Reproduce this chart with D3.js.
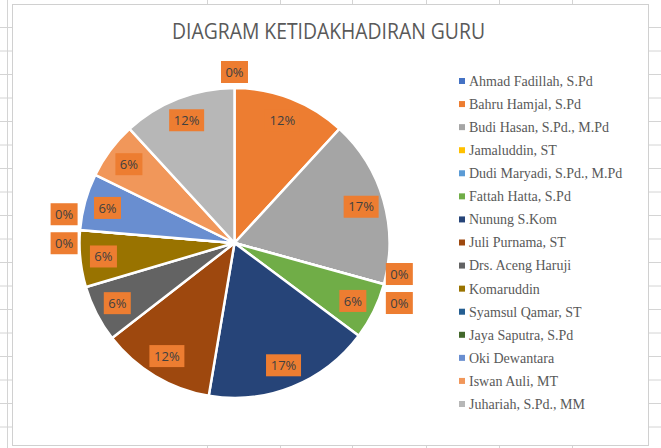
<!DOCTYPE html>
<html>
<head>
<meta charset="utf-8">
<script src="https://cdn.jsdelivr.net/npm/d3@7"></script>
<style>
  body { margin: 0; background: #fff; }
  svg { display: block; }
</style>
</head>
<body>
<script>
let w = 661;
let h = 448;

// data (share of absences, in percent)
let names = ["Ahmad Fadillah, S.Pd", "Bahru Hamjal, S.Pd", "Budi Hasan, S.Pd., M.Pd",
  "Jamaluddin, ST", "Dudi Maryadi, S.Pd., M.Pd", "Fattah Hatta, S.Pd", "Nunung S.Kom",
  "Juli Purnama, ST", "Drs. Aceng Haruji", "Komaruddin", "Syamsul Qamar, ST",
  "Jaya Saputra, S.Pd", "Oki Dewantara", "Iswan Auli, MT", "Juhariah, S.Pd., MM"];
let values = [0, 11.8, 17.4, 0, 0, 5.9, 17.4, 11.8, 5.9, 5.9, 0, 0, 5.9, 5.9, 11.8];
let colors = ["#4472C4", "#ED7D31", "#A5A5A5", "#FFC000", "#5B9BD5", "#70AD47",
  "#264478", "#9E480E", "#636363", "#997300", "#255E91", "#43682B",
  "#698ED0", "#F1975A", "#B7B7B7"];
let title = "DIAGRAM KETIDAKHADIRAN GURU";

let cx = 234.5, cy = 243, r = 155;

let svg = d3.select("body")
  .append("svg")
  .attr("width", w)
  .attr("height", h);

// spreadsheet grid behind the chart
let grid = svg.append("g").attr("stroke", "#d4d4d4").attr("stroke-width", 1);
grid.append("line").attr("x1", 7.5).attr("x2", 7.5).attr("y1", 0).attr("y2", h);
d3.range(27.5, h, 23.5).forEach(y => {
  grid.append("line").attr("x1", 0).attr("x2", 12).attr("y1", y).attr("y2", y);
  grid.append("line").attr("x1", 649).attr("x2", w).attr("y1", y).attr("y2", y);
});
[207, 280, 352, 426, 499, 572].forEach(x => {
  grid.append("line").attr("x1", x + 0.5).attr("x2", x + 0.5).attr("y1", 0).attr("y2", 4);
  grid.append("line").attr("x1", x + 0.5).attr("x2", x + 0.5).attr("y1", 445).attr("y2", h);
});

// chart area
svg.append("rect")
  .attr("x", 12.5).attr("y", 4.5)
  .attr("width", 636).attr("height", 441)
  .attr("fill", "#fff")
  .attr("stroke", "#d0d0d0");

svg.append("text")
  .attr("x", 328.5).attr("y", 39)
  .attr("text-anchor", "middle")
  .attr("font-family", "'Open Sans', sans-serif")
  .attr("font-size", "21px")
  .attr("textLength", 313)
  .attr("lengthAdjust", "spacingAndGlyphs")
  .attr("fill", "#595959")
  .text(title);

let pie = d3.pie().sort(null).value(d => d);
let arcs = pie(values);
let total = d3.sum(values);

let arc = d3.arc().innerRadius(0).outerRadius(r);

let g = svg.append("g").attr("transform", `translate(${cx},${cy})`);

g.selectAll("path")
  .data(arcs)
  .enter()
  .append("path")
  .attr("d", arc)
  .attr("fill", (d, i) => colors[i])
  .attr("stroke", "#fff")
  .attr("stroke-width", 2.5);

// label positions: inside for real slices, outside for empty ones
let inner = d3.arc().innerRadius(r * 0.85).outerRadius(r * 0.85);
let outer = d3.arc().innerRadius(r + 16).outerRadius(r + 16);
let labels = arcs.map((d, i) => {
  let p = d.value > 0 ? inner.centroid(d) : outer.centroid(d);
  return { i: i, x: p[0], y: p[1], angle: d.startAngle, zero: d.value === 0,
    text: Math.round(d.value / total * 100) + "%" };
});
// stack empty labels that sit on the same angle
let groups = d3.group(labels.filter(l => l.zero), l => l.angle.toFixed(4));
groups.forEach(list => {
  list.forEach((l, k) => {
    l.y += (k - (list.length - 1) / 2) * 29;
  });
});

let lab = g.selectAll("g.lab")
  .data(labels)
  .enter()
  .append("g")
  .attr("class", "lab")
  .attr("transform", d => `translate(${d.x},${d.y})`);

lab.append("rect")
  .attr("x", d => d.text.length > 2 ? -17.5 : -13.5)
  .attr("y", -11)
  .attr("width", d => d.text.length > 2 ? 35 : 27)
  .attr("height", 22)
  .attr("fill", "#ED7D31");

lab.append("text")
  .attr("text-anchor", "middle")
  .attr("dy", "0.36em")
  .attr("font-family", "'Open Sans', sans-serif")
  .attr("font-size", "13px")
  .attr("fill", "#404040")
  .text(d => d.text);

// legend
let legY = d3.scaleLinear().domain([0, names.length - 1]).range([81, 404]);
let leg = svg.selectAll("g.leg")
  .data(names)
  .enter()
  .append("g")
  .attr("class", "leg")
  .attr("transform", (d, i) => `translate(459,${legY(i)})`);

leg.append("rect")
  .attr("x", 0).attr("y", -3)
  .attr("width", 6).attr("height", 6)
  .attr("fill", (d, i) => colors[i]);

leg.append("text")
  .attr("x", 10)
  .attr("dy", "0.35em")
  .attr("font-family", "'Liberation Serif', 'Times New Roman', serif")
  .attr("font-size", "14px")
  .attr("fill", "#595959")
  .text(d => d);
</script>
</body>
</html>
